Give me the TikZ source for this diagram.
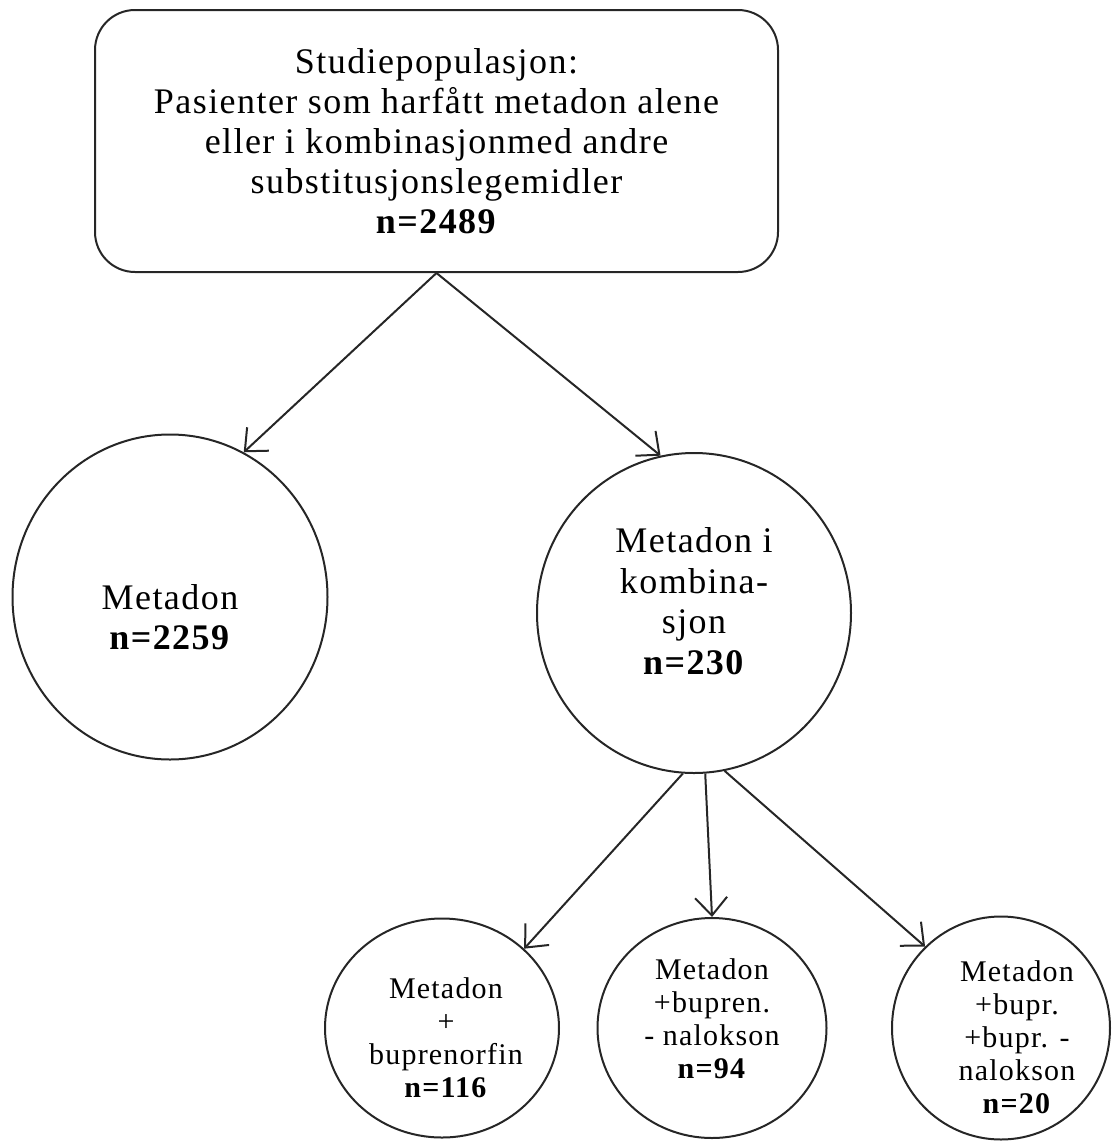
\documentclass[tikz,border=0pt]{standalone}
\usepackage{fontspec}
\setmainfont[LetterSpace=4]{Liberation Serif}
\usetikzlibrary{arrows.meta,shapes.geometric,positioning}

\tikzset{
  boks/.style={draw=black!85, line width=1pt, rounded corners=20pt, align=center,
    font=\fontsize{18}{20}\selectfont},
  ring/.style={draw=black!85, line width=1pt, ellipse, inner sep=0pt},
  stortekst/.style={align=center, inner sep=0pt, font=\fontsize{18}{20.3}\selectfont},
  litentekst/.style={align=center, inner sep=0pt, font=\fontsize{15}{16.5}\selectfont},
  pil/.style={draw=black!85, line width=1pt, -{Straight Barb[length=9pt,width=16pt]}}
}

\begin{document}
\begin{tikzpicture}[x=0.5pt, y=-0.5pt]
			\useasboundingbox (0,0) rectangle (1112,1141);

			% hele populasjonen
			\node[boks, minimum width=341.5pt, minimum height=131pt] (pop) at (436.5,141)
				{Studiepopulasjon:\\ Pasienter som harfått metadon alene\\ eller i kombinasjonmed andre\\ substitusjonslegemidler\\ \textbf{n=2489}};

			% to hovedgrupper
			\node[ring, minimum width=157.5pt, minimum height=162.5pt] (metadon) at (170,597) {};
			\node[ring, minimum width=157pt, minimum height=160pt] (kombi) at (694,613) {};
			\node[stortekst] (metadontxt) at ([yshift=-10pt]metadon.center)
				{Metadon\\ \textbf{n=2259}};
			\node[stortekst] (kombitxt) at ([yshift=6pt]kombi.center)
				{Metadon i\\ kombina-\\ sjon\\ \textbf{n=230}};

			% undergrupper
			\node[ring, minimum width=117pt, minimum height=109.5pt] (bup) at (442,1028) {};
			\node[ring, minimum width=114.5pt, minimum height=110pt] (bupnal) at (712,1028) {};
			\node[ring, minimum width=109pt, minimum height=111.5pt] (begge) at (1001,1028) {};
			\node[litentekst] (buptxt) at ([xshift=2pt,yshift=-5pt]bup.center)
				{Metadon\\ +\\ buprenorfin\\ \textbf{n=116}};
			\node[litentekst] (bupnaltxt) at ([yshift=4.5pt]bupnal.center)
				{Metadon\\ +bupren.\\ - nalokson\\ \textbf{n=94}};
			\node[litentekst] (beggetxt) at ([xshift=8pt,yshift=-4.5pt]begge.center)
				{Metadon\\ +bupr.\\ +bupr. -\\ nalokson\\ \textbf{n=20}};

			\path (pop.south) edge[pil] (metadon.63);
			\path (pop.south) edge[pil] (kombi.102);
			\path (kombi.-94) edge[pil] (bup.44);
			\path (kombi.-86) edge[pil] (bupnal.north);
			\path (kombi.-79) edge[pil] (begge.133);

		\end{tikzpicture}
\end{document}
